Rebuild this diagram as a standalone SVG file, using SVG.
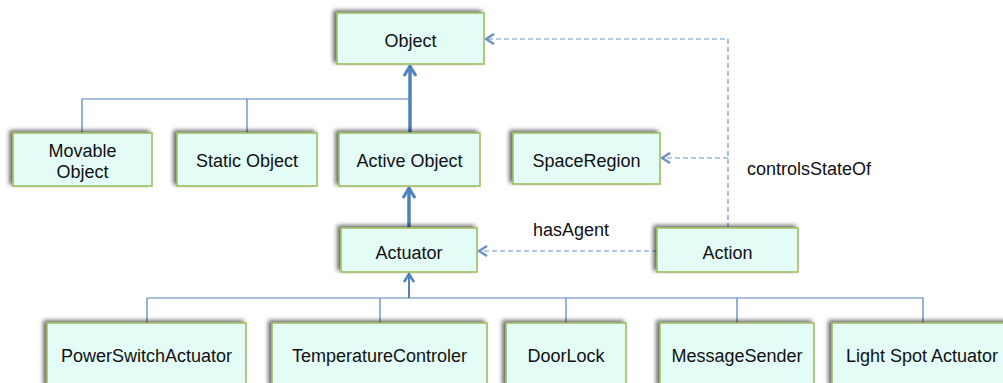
<svg xmlns="http://www.w3.org/2000/svg" width="1003" height="383" viewBox="0 0 1003 383">
<style>
.box{fill:#E3FCF6;stroke:#9BBB59;stroke-width:1.5;filter:url(#sh)}
.t{font-family:"Liberation Sans",Arial,sans-serif;font-size:18px;fill:#111;text-anchor:middle}
.lbl{font-family:"Liberation Sans",Arial,sans-serif;font-size:18px;fill:#111}
.thin{fill:none;stroke:#4F81BD;stroke-width:1.2}
.thick{fill:none;stroke:#4F81BD;stroke-width:3.5;marker-end:url(#ah)}
.mid{fill:none;stroke:#4F81BD;stroke-width:2;marker-end:url(#ah2)}
.dash{fill:none;stroke:#4F81BD;stroke-width:1.2;stroke-dasharray:5,3;opacity:0.85;marker-end:url(#ad)}
</style>
<defs>
<filter id="sh" x="-20%" y="-30%" width="140%" height="160%">
<feDropShadow dx="-3" dy="-2" stdDeviation="2" flood-color="#000" flood-opacity="0.6"/>
</filter>
<marker id="ah" markerUnits="userSpaceOnUse" viewBox="0 0 12 14" refX="11" refY="7" markerWidth="12" markerHeight="14" orient="auto">
<path d="M1,1 L11,7 L1,13" fill="none" stroke="#4F81BD" stroke-width="3"/>
</marker>
<marker id="ah2" markerUnits="userSpaceOnUse" viewBox="0 0 10 12" refX="9" refY="6" markerWidth="10" markerHeight="12" orient="auto">
<path d="M1,1 L9,6 L1,11" fill="none" stroke="#4F81BD" stroke-width="2.5"/>
</marker>
<marker id="ad" markerUnits="userSpaceOnUse" viewBox="0 0 10 12" refX="9" refY="6" markerWidth="10" markerHeight="12" orient="auto">
<path d="M1,1 L9,6 L1,11" fill="none" stroke="#4F81BD" stroke-width="2.5"/>
</marker>
</defs>
<rect width="1003" height="383" fill="#fff"/>
<g id="connectors">
<path class="thin" d="M82,133 V99 H410 M247,133 V99"/>
<path class="thick" d="M410,133 V66"/>
<path class="thick" d="M409,228 V188"/>
<path class="thin" d="M147,323 V298 H923 V323 M380,298 V323 M566,298 V323 M737,298 V323"/>
<path class="mid" d="M409,298 V274"/>
<path class="dash" d="M728,228 V39 H486"/>
<path class="dash" d="M728,158 H662"/>
<path class="dash" d="M657,251 H479"/>
<text class="lbl" x="533" y="236">hasAgent</text>
<text class="lbl" x="747" y="175">controlsStateOf</text>
</g>
<g id="n-object"><rect class="box" x="337" y="13" width="147" height="51"/><text class="t" x="410.5" y="47">Object</text></g>
<g id="n-movable"><rect class="box" x="13" y="133" width="139" height="53"/><text class="t" x="82.5" y="157">Movable</text><text class="t" x="82.5" y="178">Object</text></g>
<g id="n-static"><rect class="box" x="177" y="133" width="140" height="53"/><text class="t" x="247" y="167">Static Object</text></g>
<g id="n-active"><rect class="box" x="339" y="133" width="141" height="53"/><text class="t" x="409.5" y="167">Active Object</text></g>
<g id="n-space"><rect class="box" x="513" y="133" width="147" height="51"/><text class="t" x="586.5" y="167">SpaceRegion</text></g>
<g id="n-actuator"><rect class="box" x="341" y="228" width="136" height="44"/><text class="t" x="409" y="259">Actuator</text></g>
<g id="n-action"><rect class="box" x="657" y="228" width="141" height="44"/><text class="t" x="727.5" y="259">Action</text></g>
<g id="n-power"><rect class="box" x="47" y="323" width="199" height="64"/><text class="t" x="146.5" y="362">PowerSwitchActuator</text></g>
<g id="n-temp"><rect class="box" x="272" y="323" width="215" height="64"/><text class="t" x="379.5" y="362">TemperatureControler</text></g>
<g id="n-door"><rect class="box" x="506" y="323" width="120" height="64"/><text class="t" x="566" y="362">DoorLock</text></g>
<g id="n-msg"><rect class="box" x="660" y="323" width="154" height="64"/><text class="t" x="737" y="362">MessageSender</text></g>
<g id="n-light"><rect class="box" x="832" y="323" width="182" height="64"/><text class="t" x="922" y="362">Light Spot Actuator</text></g>
</svg>
